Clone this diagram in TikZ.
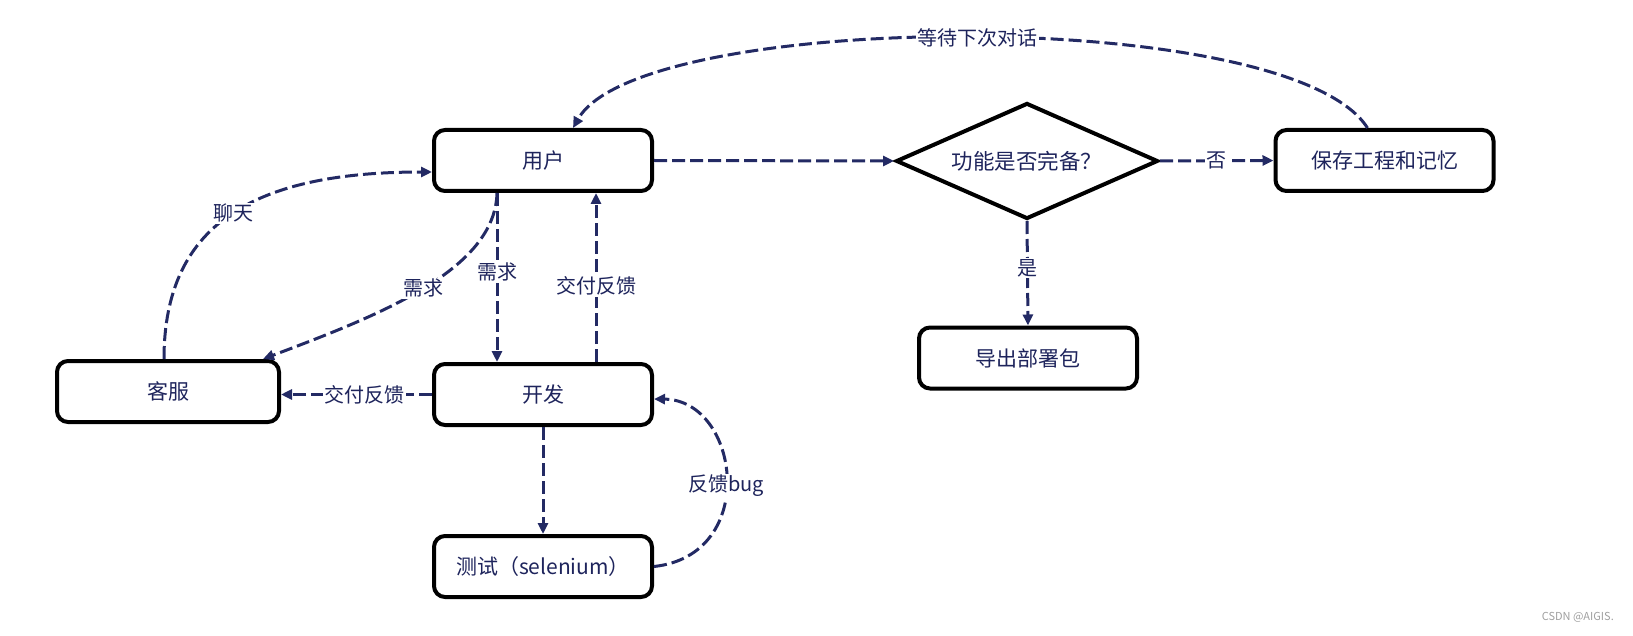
\documentclass[tikz,border=0pt]{standalone}
\usepackage{fontspec}
\setmainfont{Noto Sans CJK SC}
\usetikzlibrary{shapes.geometric,arrows.meta}
\definecolor{navy}{RGB}{35,42,100}
\definecolor{txt}{RGB}{30,36,92}
\begin{document}
\begin{tikzpicture}[x=1pt,y=-1pt,
  box/.style={draw=black,line width=4pt,rounded corners=11pt,minimum width=218pt,minimum height=61pt,fill=white,text=txt,inner sep=0pt,font=\fontsize{21}{25}\selectfont},
  dec/.style={diamond,draw=black,line width=4pt,aspect=2.26,minimum width=262pt,minimum height=116pt,inner sep=0pt,fill=white,text=txt,font=\fontsize{21.5}{25}\selectfont},
  link/.style={draw=navy,line width=3pt,dash pattern=on 13pt off 5pt,-{Triangle[length=11pt,width=10pt]}},
  lbl/.style={fill=white,text=txt,inner sep=1.5pt,font=\fontsize{20}{24}\selectfont}
]
\useasboundingbox (0,0) rectangle (1633,636);
\node[box] (user) at (543,160.5) {用户};
\node[dec] (dec) at (1027,161) {功能是否完备？};
\node[box] (save) at (1384.5,160.5) {保存工程和记忆};
\node[box] (export) at (1028,358) {导出部署包};
\node[box,minimum width=222pt] (kefu) at (168,391.5) {客服};
\node[box] (dev) at (543,394.5) {开发};
\node[box] (test) at (543,566.5) {测试（selenium）};
\node[text=gray!75,anchor=east,inner sep=0pt,font=\fontsize{11}{13}\selectfont] (wm) at (1614,617) {CSDN @AIGIS.};

\draw[link] (user.east) -- (dec.west);
\draw[link] (dec.east) -- node[lbl]{否} (save.west);
\draw[link] (dec.south) -- node[lbl,pos=0.45]{是} (export.north);
\draw[link] ([xshift=-17pt]save.north) .. controls (1290,5) and (640,10) .. node[lbl,pos=0.49]{等待下次对话} ([xshift=30pt]user.north);
\draw[link] ([xshift=-4pt]kefu.north) .. controls (164,220) and (260,172) .. node[lbl,pos=0.5]{聊天} ([yshift=-11.5pt]user.west);
\draw[link] ([xshift=-46pt]user.south) .. controls (495,270) and (380,315) .. node[lbl,pos=0.5]{需求} ([xshift=95pt]kefu.north);
\draw[link] ([xshift=-46pt]user.south) -- node[lbl,pos=0.47]{需求} ([xshift=-46pt]dev.north);
\draw[link] ([xshift=53pt]dev.north) -- node[lbl,pos=0.45]{交付反馈} ([xshift=53pt]user.south);
\draw[link] (dev.west) -- node[lbl,pos=0.45]{交付反馈} (dev.west -| kefu.east);
\draw[link] (dev.south) -- (test.north);
\draw[link] (test.east) .. controls (760,555) and (740,400) .. node[lbl,pos=0.47]{反馈bug} ([yshift=-4.5pt]dev.east);
\end{tikzpicture}
\end{document}
